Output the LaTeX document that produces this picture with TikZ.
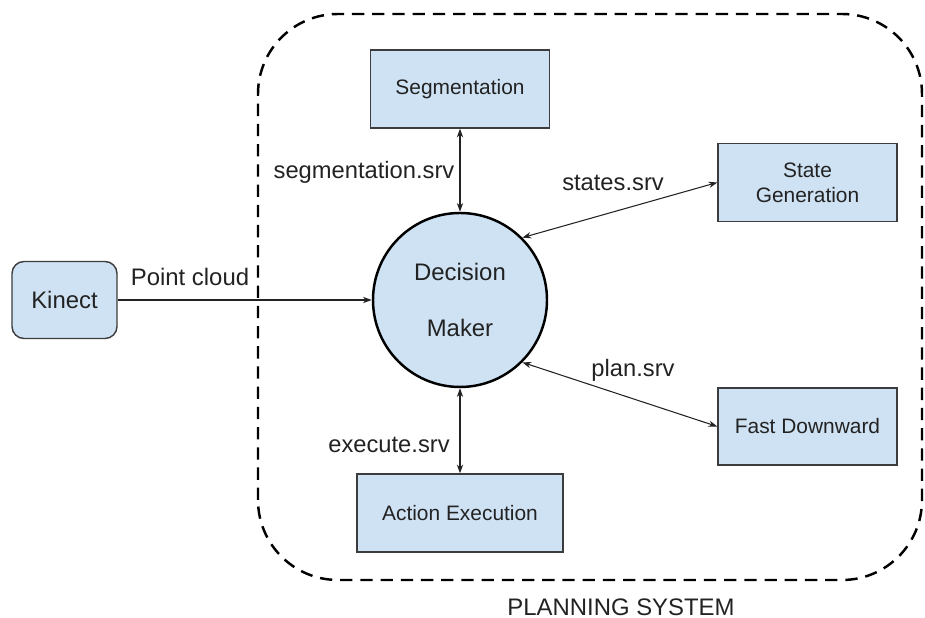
\documentclass[tikz,border=0pt]{standalone}
\usepackage{fontspec}
\setmainfont{Liberation Sans}
\usetikzlibrary{arrows.meta}
\definecolor{boxblue}{HTML}{CFE2F3}
\definecolor{edgegray}{HTML}{3C3C3C}
\definecolor{inkgray}{HTML}{222222}
\tikzset{
	module/.style={draw=edgegray, line width=0.8pt, fill=boxblue, text=inkgray, minimum width=#1, minimum height=1.56cm, inner sep=0pt, align=center, font=\fontsize{11.9}{14.2}\selectfont},
	module/.default=3.58cm,
	srvlabel/.style={text=inkgray, inner sep=0pt, font=\fontsize{13.5}{16}\selectfont},
	service/.style={{Stealth[length=5pt,width=3.6pt]}-{Stealth[length=5pt,width=3.6pt]}, line width=0.6pt, draw=inkgray},
	stream/.style={-{Stealth[length=5pt,width=3.6pt]}, line width=0.6pt, draw=inkgray}
}

\begin{document}
\begin{tikzpicture}
			%%%%% START %%%%%
			\useasboundingbox (0, 0) rectangle (18.5, 12.36);
			
			\draw[line width=1.4pt, dash pattern=on 7pt off 4.5pt, rounded corners=1.6cm] (5.16, 0.76) rectangle (18.44, 12.08);
			\node[text=inkgray, font=\fontsize{13.6}{16}\selectfont] (plansys) at (12.42, 0.22) {PLANNING SYSTEM};
			
			\node[draw=edgegray, line width=0.8pt, fill=boxblue, text=inkgray, rounded corners=0.24cm, minimum width=2.1cm, minimum height=1.54cm, inner sep=0pt, font=\fontsize{13.6}{16}\selectfont] (kinect) at (1.29, 6.36) {Kinect};
			
			\node[circle, draw=black, line width=1.4pt, fill=boxblue, text=inkgray, minimum size=3.48cm, inner sep=0pt, align=center, font=\fontsize{13.6}{32.3}\selectfont] (decision) at (9.2, 6.36) {Decision\\Maker};
			
			\node[module] (segment) at (9.2, 10.58) {Segmentation};
			\node[module] (stategen) at (16.15, 8.71) {State\\Generation};
			\node[module, minimum height=1.54cm] (fastdown) at (16.15, 3.83) {Fast Downward};
			\node[module=4.12cm] (actexec) at (9.2, 2.1) {Action Execution};
			
			\draw[stream] (kinect) -- (decision);
			\draw[service] (segment) -- (decision);
			\draw[service] (decision.45) -- (stategen.west);
			\draw[service] (decision.-45) -- (fastdown.west);
			\draw[service] (decision) -- (actexec);
			
			\node[srvlabel, font=\fontsize{13.6}{16}\selectfont] (pclabel) at (3.8, 6.82) {Point cloud};
			\node[srvlabel] (seglabel) at (7.28, 8.91) {segmentation.srv};
			\node[srvlabel] (statelabel) at (12.26, 8.70) {states.srv};
			\node[srvlabel] (planlabel) at (12.66, 4.96) {plan.srv};
			\node[srvlabel] (execlabel) at (7.78, 3.46) {execute.srv};
			
			%%%%% END %%%%%
\end{tikzpicture}
\end{document}
